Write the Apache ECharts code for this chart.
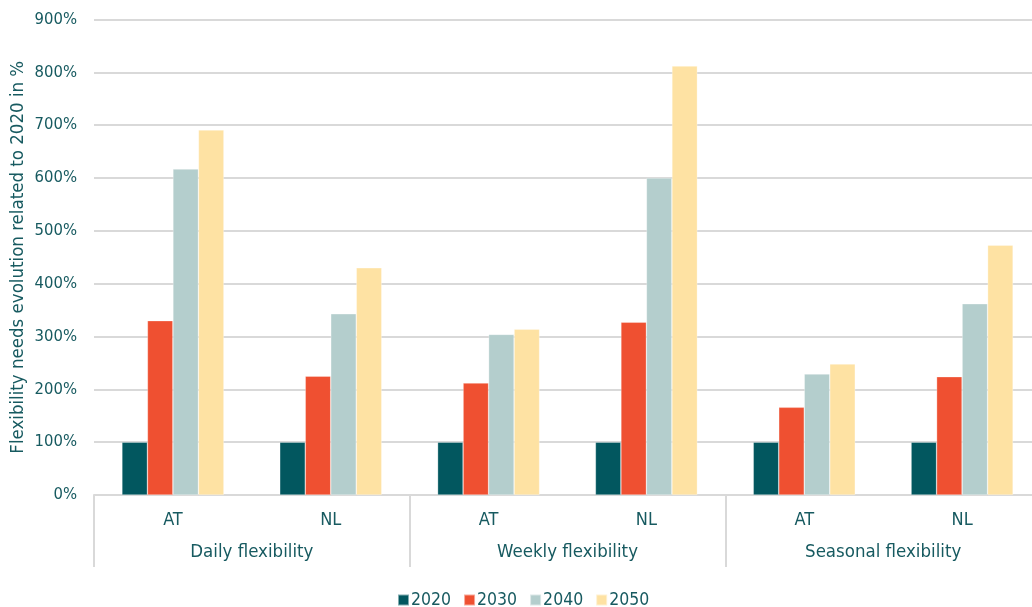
<!DOCTYPE html>
<html>
<head>
<meta charset="utf-8">
<script src="https://cdn.jsdelivr.net/npm/echarts@6/dist/echarts.min.js"></script>
<style>
  html, body { margin: 0; padding: 0; background: #fff; overflow: hidden; }
  #chart { width: 1032px; height: 607px; }
</style>
</head>
<body>
<div id="chart"></div>
<script>
// Country categories, grouped by flexibility time scale
const countries = ['AT', 'NL', 'AT', 'NL', 'AT', 'NL'];
const groups = ['Daily flexibility', 'Weekly flexibility', 'Seasonal flexibility'];
const years = ['2020', '2030', '2040', '2050'];

// Flexibility needs relative to 2020 (in %)
const v2020 = [100, 100, 100, 100, 100, 100];
const v2030 = [330, 225, 212, 327, 166, 224];
const v2040 = [617, 343, 304, 600, 229, 362];
const v2050 = [691, 430, 314, 812, 248, 473];

const yTicks = { min: 0, max: 900, step: 100 };

const colors = ['#02575f', '#ef5031', '#b4cecd', '#fee2a3'];
const textColor = '#175a60';
const font = '"DejaVu Sans Condensed", "Liberation Sans Narrow", "DejaVu Sans", sans-serif';
const gridLine = '#d9d9d9';

const seriesValues = [v2020, v2030, v2040, v2050];

const chart = echarts.init(document.getElementById('chart'), null, { renderer: 'canvas' });

// the plot runs slightly past the right edge of the canvas
chart.setOption({
  animation: false,
  textStyle: { fontFamily: font },
  grid: { left: 94, width: 947, top: 19.5, bottom: 112, containLabel: false, outerBoundsMode: 'none' },
  legend: {
    data: years,
    top: 586,
    left: 392,
    icon: 'rect',
    itemWidth: 11,
    itemHeight: 11,
    itemGap: 12,
    textStyle: { color: textColor, fontSize: 17.5, fontFamily: font, padding: [0, 0, 0, -3] }
  },
  xAxis: [
    {
      type: 'category',
      data: countries,
      position: 'bottom',
      axisLine: { show: true, lineStyle: { color: gridLine, width: 2 } },
      axisTick: { show: false },
      axisLabel: { color: textColor, fontSize: 18, fontFamily: font, margin: 16 }
    },
    {
      type: 'category',
      data: groups,
      position: 'bottom',
      axisLine: { show: false },
      axisTick: { show: true, length: 72, lineStyle: { color: gridLine, width: 2 } },
      axisLabel: { color: textColor, fontSize: 18.5, fontFamily: font, margin: 48 },
      splitLine: { show: false }
    }
  ],
  yAxis: {
    type: 'value',
    min: yTicks.min,
    max: yTicks.max,
    interval: yTicks.step,
    name: 'Flexibility needs evolution related to 2020 in %',
    nameLocation: 'middle',
    nameGap: 66,
    nameMoveOverlap: false,
    nameTextStyle: { color: textColor, fontSize: 18.5, fontFamily: font },
    axisLine: { show: false },
    axisTick: { show: false },
    axisLabel: {
      color: textColor, fontSize: 16.5, fontFamily: font, margin: 17,
      formatter: v => v + '%'
    },
    splitLine: { lineStyle: { color: gridLine, width: 2 } }
  },
  series: years.map((y, i) => ({
    name: y,
    type: 'bar',
    xAxisIndex: 0,
    data: seriesValues[i],
    barWidth: 25.5,
    barGap: '0%',
    itemStyle: { color: colors[i], borderColor: 'rgba(255,255,255,0.5)', borderWidth: 0.6 }
  }))
});
</script>
</body>
</html>
